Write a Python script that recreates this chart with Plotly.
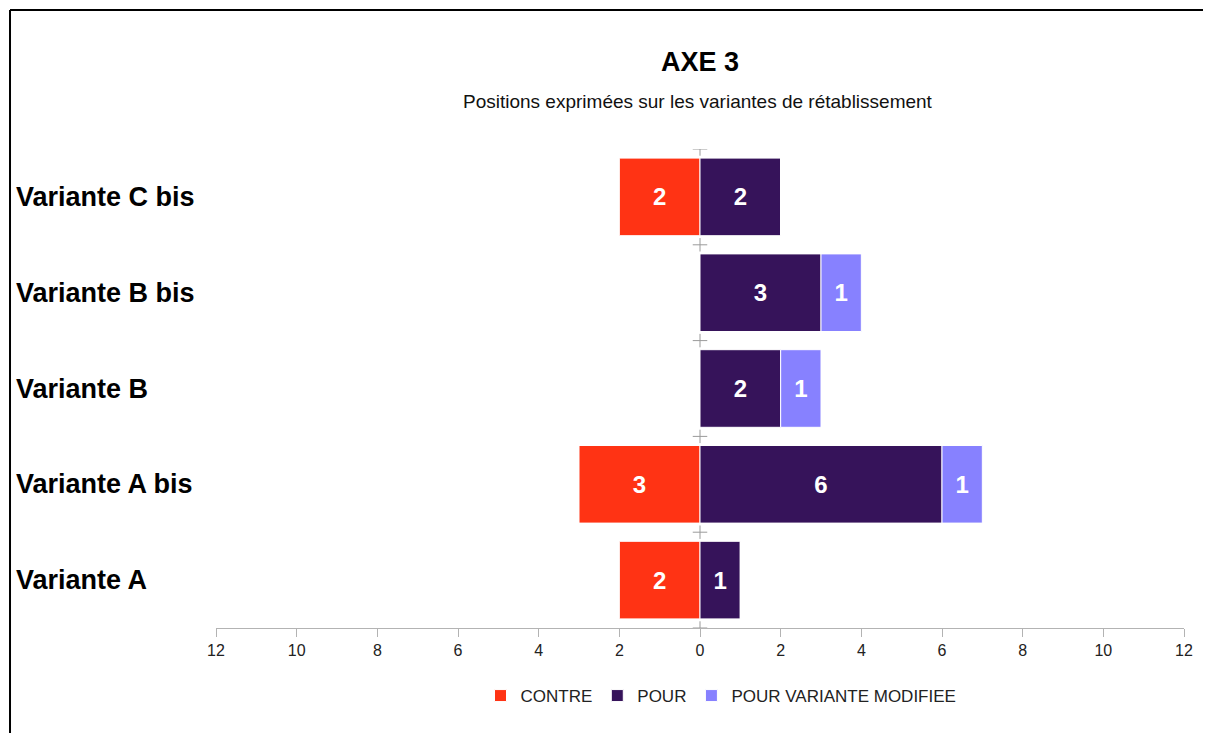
import plotly.graph_objects as go

# Data
categories = ["Variante A", "Variante A bis", "Variante B", "Variante B bis", "Variante C bis"]
contre = [2, 3, 0, 0, 2]
pour = [1, 6, 2, 3, 2]
pour_modifiee = [0, 1, 1, 1, 0]
tick_values = [-12, -10, -8, -6, -4, -2, 0, 2, 4, 6, 8, 10, 12]

FONT = "Liberation Sans, Arial, sans-serif"


def labels(values):
    return [str(v) if v else "" for v in values]


fig = go.Figure()

series = [
    ("CONTRE", [-v for v in contre], labels(contre), "#ff3314"),
    ("POUR", pour, labels(pour), "#36135a"),
    ("POUR VARIANTE MODIFIEE", pour_modifiee, labels(pour_modifiee), "#8781ff"),
]
for name, vals, txt, color in series:
    fig.add_trace(go.Bar(
        y=categories,
        x=vals,
        orientation="h",
        name=name,
        text=txt,
        textposition="inside",
        insidetextanchor="middle",
        textfont=dict(family=FONT, size=24, color="white", weight="bold"),
        marker=dict(color=color, line=dict(color="white", width=1)),
        constraintext="none",
    ))

# Cross markers on the zero line at category boundaries
shapes = []
for k in range(len(categories) + 1):
    b = k - 0.5
    shapes.append(dict(type="line", xref="x", yref="y", x0=-0.18, x1=0.18, y0=b, y1=b,
                       line=dict(color="#9a9a9a", width=1)))
    shapes.append(dict(type="line", xref="x", yref="y", x0=0, x1=0, y0=b - 0.07, y1=b + 0.07,
                       line=dict(color="#9a9a9a", width=1)))

# Outer frame (only left and top visible)
shapes.append(dict(type="line", xref="paper", yref="paper", x0=-0.2128, x1=-0.2128, y0=-0.5, y1=1.290,
                   line=dict(color="black", width=2)))
shapes.append(dict(type="line", xref="paper", yref="paper", x0=-0.2128, x1=1.2, y0=1.290, y1=1.290,
                   line=dict(color="black", width=2)))

annotations = [
    dict(text="<b>AXE 3</b>", xref="paper", yref="paper", x=0.5, y=1.1816, yanchor="middle",
         showarrow=False, font=dict(family=FONT, size=27, color="black")),
    dict(text="Positions exprimées sur les variantes de rétablissement", xref="paper", yref="paper",
         x=0.4979, y=1.100, yanchor="middle", showarrow=False,
         font=dict(family=FONT, size=19, color="#111")),
]
for cat in categories:
    annotations.append(dict(text=f"<b>{cat}</b>", xref="paper", yref="y", x=-0.2087, y=cat,
                            xanchor="left", showarrow=False,
                            font=dict(family=FONT, size=27, color="black")))

fig.update_layout(
    width=1211,
    height=733,
    barmode="relative",
    bargap=0.19,
    paper_bgcolor="white",
    plot_bgcolor="white",
    margin=dict(l=208, r=35, t=141, b=113),
    font=dict(family=FONT, color="#222"),
    shapes=shapes,
    annotations=annotations,
    showlegend=True,
    legend=dict(orientation="h", x=0.5217, xanchor="center", y=-0.142, yanchor="middle",
                font=dict(family=FONT, size=17, color="#222"), itemwidth=30),
    xaxis=dict(
        range=[-12, 12],
        tickvals=tick_values,
        ticktext=[str(abs(v)) for v in tick_values],
        showgrid=False,
        zeroline=False,
        showline=True,
        linecolor="#b3b3b3",
        linewidth=1,
        ticks="outside",
        ticklen=8,
        tickcolor="#b3b3b3",
        tickfont=dict(family=FONT, size=16, color="#222"),
    ),
    yaxis=dict(
        categoryorder="array",
        categoryarray=categories,
        range=[-0.5, len(categories) - 0.5],
        showticklabels=False,
        showgrid=False,
        zeroline=False,
        showline=False,
    ),
)

fig.write_html("out.html")
